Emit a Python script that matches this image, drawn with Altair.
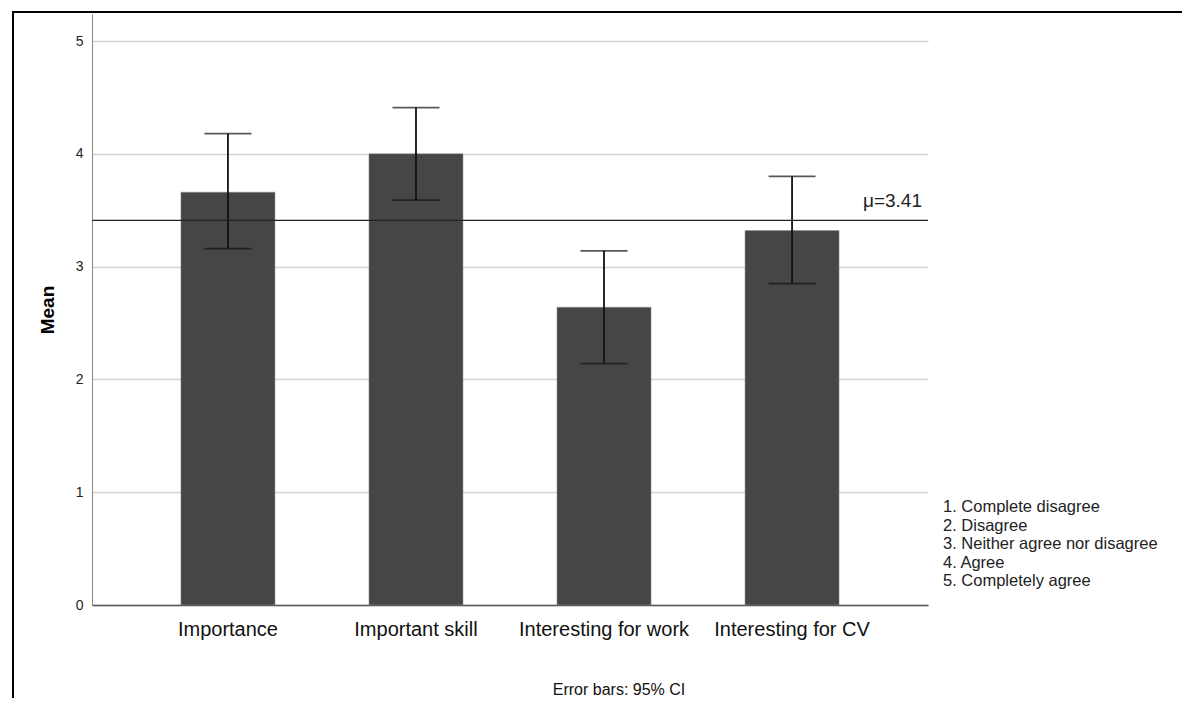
import altair as alt
import pandas as pd

categories = ["Importance", "Important skill", "Interesting for work", "Interesting for CV"]
means = [3.66, 4.00, 2.64, 3.32]
ci_low = [3.16, 3.59, 2.14, 2.85]
ci_high = [4.18, 4.41, 3.14, 3.80]
mu = 3.41
y_ticks = [0, 1, 2, 3, 4, 5]
legend_lines = ["1. Complete disagree", "2. Disagree", "3. Neither agree nor disagree", "4. Agree", "5. Completely agree"]
footnote = "Error bars: 95% CI"

FONT = "Liberation Sans"

df = pd.DataFrame({"cat": categories, "mean": means, "lo": ci_low, "hi": ci_high})
mu_df = pd.DataFrame({"mu": [mu], "label": [f"\u03bc={mu:.2f}"]})

xenc = alt.X("cat:N", sort=categories, title=None,
             scale=alt.Scale(paddingInner=0.5, paddingOuter=0.473),
             axis=alt.Axis(labelAngle=0, ticks=False, labelFontSize=20, labelFont=FONT,
                           labelColor="#111", labelPadding=14, domainColor="#555",
                           domainWidth=1.5, grid=False))
yscale = alt.Scale(domain=[0, 5.24], nice=False)

base = alt.Chart(df)

bars = base.mark_bar(color="#464648", stroke="#8a8a8a", strokeWidth=0.5).encode(
    x=xenc,
    y=alt.Y("mean:Q", scale=yscale, title="Mean",
            axis=alt.Axis(values=y_ticks, format="d", ticks=False, labelFontSize=14,
                          labelFont=FONT, labelColor="#222", labelPadding=9,
                          domainColor="#888", domainWidth=1, gridColor="#d2d2d2",
                          gridWidth=1.6, titleFont=FONT, titleFontSize=19,
                          titleFontWeight="bold", titleColor="#000", titlePadding=18)),
)

err = base.mark_rule(color="#111", strokeWidth=1.8).encode(
    x=alt.X("cat:N", sort=categories), y=alt.Y("lo:Q", scale=yscale), y2="hi:Q")
cap_hi = base.mark_tick(color="#111", thickness=1.8, size=47, orient="horizontal").encode(
    x=alt.X("cat:N", sort=categories), y=alt.Y("hi:Q", scale=yscale))
cap_lo = base.mark_tick(color="#111", thickness=1.8, size=47, orient="horizontal").encode(
    x=alt.X("cat:N", sort=categories), y=alt.Y("lo:Q", scale=yscale))

mu_line = alt.Chart(mu_df).mark_rule(color="#222", strokeWidth=1.2).encode(
    y=alt.Y("mu:Q", scale=yscale))
mu_text = alt.Chart(mu_df).mark_text(align="right", baseline="bottom", dy=-9, font=FONT,
                                     fontSize=19, color="#222").encode(
    y=alt.Y("mu:Q", scale=yscale), x=alt.value(830), text="label:N")

legend_text = alt.Chart(pd.DataFrame({"t": [legend_lines]})).mark_text(
    align="left", baseline="middle", font=FONT, fontSize=16.5, lineHeight=18.5,
    color="#222").encode(x=alt.value(851), y=alt.value(493), text="t")

foot_text = alt.Chart(pd.DataFrame({"t": [footnote]})).mark_text(
    align="center", baseline="middle", font=FONT, fontSize=16, color="#111").encode(
    x=alt.value(527), y=alt.value(676), text="t:N")

frame_left = alt.Chart(pd.DataFrame({"a": [0]})).mark_rule(color="#000", strokeWidth=2).encode(
    x=alt.value(-79), y=alt.value(-2), y2=alt.value(700))
frame_top = alt.Chart(pd.DataFrame({"a": [0]})).mark_rule(color="#000", strokeWidth=2).encode(
    x=alt.value(-80), x2=alt.value(1100), y=alt.value(-2))

chart = alt.layer(bars, err, cap_hi, cap_lo, mu_line, mu_text, legend_text, foot_text,
                  frame_left, frame_top).properties(
    width=836, height=591,
    autosize=alt.AutoSizeParams(type="none"),
    padding={"left": 84, "top": 6, "right": 254, "bottom": 93},
    background="white",
).configure_view(stroke=None)

chart.save("out.html", embed_options={"renderer": "svg", "actions": False})
